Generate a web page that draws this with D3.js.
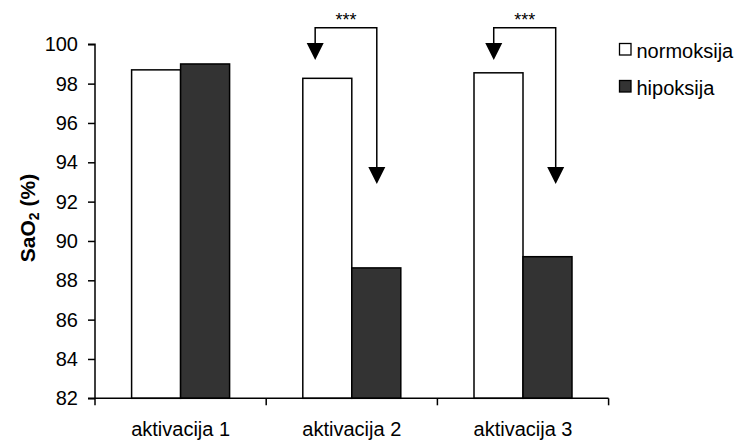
<!DOCTYPE html>
<html>
<head>
<meta charset="utf-8">
<script src="https://cdn.jsdelivr.net/npm/d3@7"></script>
<style>
  html, body { margin: 0; padding: 0; background: #fff; }
  svg { display: block; font-family: "Liberation Sans", Arial, sans-serif; }
</style>
</head>
<body>
<svg id="chart" width="740" height="441"></svg>
<script>
// ---- data ----
const categories = ["aktivacija 1", "aktivacija 2", "aktivacija 3"];
const seriesNames = ["normoksija", "hipoksija"];
const normoksija = [98.7, 98.27, 98.55];
const hipoksija = [99.0, 88.63, 89.2];
const yTicks = [82, 84, 86, 88, 90, 92, 94, 96, 98, 100];
const sigLabels = ["", "***", "***"];

// ---- layout ----
const svg = d3.select("#chart");
const plotLeft = 95, plotRight = 608.6, plotTop = 44.3, plotBottom = 398.3;
const colors = { normoksija: "#ffffff", hipoksija: "#333333" };
const seriesValues = { normoksija, hipoksija };

const y = d3.scaleLinear().domain([82, 100]).range([plotBottom, plotTop]);
const x0 = d3.scaleBand().domain(categories).range([plotLeft, plotRight]).paddingInner(0).paddingOuter(0);
const x1 = d3.scaleBand().domain(seriesNames).range([0, x0.bandwidth()]).paddingInner(0).paddingOuter(0.747);

// bars
seriesNames.forEach(s => {
  svg.append("g").selectAll("rect")
    .data(categories.map((c, i) => ({ c, v: seriesValues[s][i] })))
    .join("rect")
    .attr("x", d => x0(d.c) + x1(s))
    .attr("y", d => y(d.v))
    .attr("width", x1.bandwidth())
    .attr("height", d => y(82) - y(d.v))
    .attr("fill", colors[s])
    .attr("stroke", "#000")
    .attr("stroke-width", 1.5);
});

// y axis
const yAxis = svg.append("g")
  .attr("transform", `translate(${plotLeft},0)`)
  .call(d3.axisLeft(y).tickValues(yTicks).tickSize(7).tickPadding(10).tickFormat(d3.format("d")));
yAxis.select(".domain").attr("stroke", "#000").attr("stroke-width", 1.5).attr("d", `M-7,${plotBottom}H0V${plotTop}H-7`);
yAxis.selectAll(".tick line").attr("stroke", "#000").attr("stroke-width", 1.5);
yAxis.selectAll(".tick text").attr("font-size", 20).attr("font-family", "Liberation Sans, Arial, sans-serif").attr("fill", "#000");

// x axis
const xAxis = svg.append("g")
  .attr("transform", `translate(0,${plotBottom})`)
  .call(d3.axisBottom(x0).tickSize(0).tickPadding(24));
xAxis.select(".domain").attr("stroke", "#000").attr("stroke-width", 1.5).attr("d", `M${plotLeft},0H${plotRight}`);
xAxis.selectAll(".tick text").attr("font-size", 20).attr("font-family", "Liberation Sans, Arial, sans-serif").attr("fill", "#000");
// band boundary ticks
const edges = categories.map(c => x0(c)).concat([x0(categories[categories.length - 1]) + x0.bandwidth()]);
svg.append("g").selectAll("line").data(edges).join("line")
  .attr("x1", d => d).attr("x2", d => d)
  .attr("y1", plotBottom).attr("y2", plotBottom + 7)
  .attr("stroke", "#000").attr("stroke-width", 1.5);

// y label
const yl = svg.append("text")
  .attr("transform", `translate(35,218) rotate(-90)`)
  .attr("text-anchor", "middle")
  .attr("font-size", 21)
  .attr("font-weight", "bold");
yl.append("tspan").text("SaO");
yl.append("tspan").attr("font-size", 14).attr("dy", 4).text("2");
yl.append("tspan").attr("dy", -4).text(" (%)");

// significance arrows
const arrowFrac = [null, [0.286, 0.646], [0.329, 0.691]];
const bracketY = 27.7, leftTip = 60, rightTip = 184, headH = 17, headW = 17;
const ann = svg.append("g");
categories.forEach((c, i) => {
  if (!sigLabels[i]) return;
  const xl = x0(c) + arrowFrac[i][0] * x0.bandwidth();
  const xr = x0(c) + arrowFrac[i][1] * x0.bandwidth();
  ann.append("path")
    .attr("d", `M${xl},${leftTip - headH + 1}V${bracketY}H${xr}V${rightTip - headH + 1}`)
    .attr("fill", "none").attr("stroke", "#000").attr("stroke-width", 1.5);
  [[xl, leftTip], [xr, rightTip]].forEach(([ax, ay]) => {
    ann.append("path")
      .attr("d", `M${ax - headW / 2},${ay - headH}L${ax + headW / 2},${ay - headH}L${ax},${ay}Z`)
      .attr("fill", "#000");
  });
  ann.append("text")
    .attr("x", (xl + xr) / 2).attr("y", 26)
    .attr("text-anchor", "middle").attr("font-size", 18)
    .text(sigLabels[i]);
});

// legend
const legend = svg.append("g");
seriesNames.forEach((s, i) => {
  const ly = 43.5 + i * 37;
  legend.append("rect")
    .attr("x", 619.5).attr("y", ly).attr("width", 11.5).attr("height", 11.5)
    .attr("fill", colors[s]).attr("stroke", "#000").attr("stroke-width", 1.3);
  legend.append("text")
    .attr("x", 636.5).attr("y", ly + 14)
    .attr("font-size", 20).text(s);
});
</script>
</body>
</html>
